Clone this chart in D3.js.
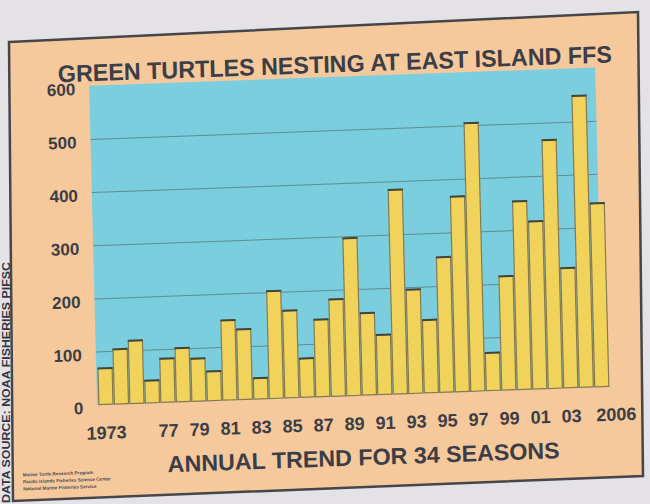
<!DOCTYPE html>
<html>
<head>
<meta charset="utf-8">
<script src="https://cdn.jsdelivr.net/npm/d3@7"></script>
<style>
  html, body { margin: 0; padding: 0; background: #e4e2e6; }
  svg { display: block; }
  text { font-family: "Liberation Sans", Arial, Helvetica, sans-serif; font-weight: bold; }
</style>
</head>
<body>
<svg id="chart" width="650" height="504"></svg>
<script>
// Green turtle nests counted at East Island, French Frigate Shoals
const years = [1973, 1974, 1975, 1976, 1977, 1978, 1979, 1980, 1981, 1982, 1983,
               1984, 1985, 1986, 1987, 1988, 1989, 1990, 1991, 1992, 1993, 1994,
               1995, 1996, 1997, 1998, 1999, 2000, 2001, 2002, 2003, 2004, 2005];
const nests = [68, 103, 118, 42, 82, 101, 80, 55, 150, 132, 39,
               202, 164, 73, 145, 182, 296, 154, 112, 384, 195, 137,
               254, 367, 504, 71, 214, 354, 315, 467, 225, 548, 345];
const yTicks = [0, 100, 200, 300, 400, 500, 600];
const xTickYears = [1973, 1977, 1979, 1981, 1983, 1985, 1987, 1989, 1991,
                    1993, 1995, 1997, 1999, 2001, 2003];
const endLabel = "2006";
const title = "GREEN TURTLES NESTING AT EAST ISLAND FFS";
const subtitle = "ANNUAL TREND FOR 34 SEASONS";
const sourceNote = "DATA SOURCE: NOAA FISHERIES PIFSC";
const credits = ["Marine Turtle Research Program",
                 "Pacific Islands Fisheries Science Center",
                 "National Marine Fisheries Service"];

const svg = d3.select("#chart");
const ink = "#3b3d47";

// printed panel (the page sits slightly askew)
svg.append("polygon")
  .attr("points", "9,42 638,12 643,476 13,501")
  .attr("fill", "#f5c99b")
  .attr("stroke", "#45464a")
  .attr("stroke-width", 2.5);

svg.append("text")
  .attr("transform", "translate(10,503) rotate(-90)")
  .attr("font-size", 10)
  .attr("fill", "#34363d")
  .attr("textLength", 241)
  .attr("lengthAdjust", "spacingAndGlyphs")
  .text(sourceNote);

// chart content, sheared to follow the tilted page
const g = svg.append("g")
  .attr("transform", "matrix(1,-0.036,0.025,1,-10,3.24)");

const plot = { left: 97, right: 603, top: 86, bottom: 405 };

const x = d3.scaleBand()
  .domain(years)
  .range([98, 609.5])
  .paddingInner(0.09)
  .paddingOuter(0.05);

const y = d3.scaleLinear()
  .domain([0, 600])
  .range([plot.bottom, plot.top]);

g.append("rect")
  .attr("x", plot.left).attr("y", plot.top)
  .attr("width", plot.right - plot.left)
  .attr("height", plot.bottom - plot.top)
  .attr("fill", "#7bcedd");

// gridlines
const grid = g.append("g")
  .attr("transform", `translate(${plot.left},0)`)
  .call(d3.axisLeft(y).tickValues(yTicks.filter(v => v > 0 && v < 600))
    .tickSize(-(plot.right - plot.left)).tickFormat(""));
grid.select(".domain").remove();
grid.selectAll(".tick line").attr("stroke", "#5d7f8c").attr("stroke-width", 1).attr("opacity", 0.85);

// bars
const bars = g.append("g");
bars.selectAll("rect")
  .data(years)
  .join("rect")
  .attr("x", d => x(d))
  .attr("y", (d, i) => y(nests[i]))
  .attr("width", x.bandwidth())
  .attr("height", (d, i) => y(0) - y(nests[i]))
  .attr("fill", "#f1d35c")
  .attr("stroke", "#857a52")
  .attr("stroke-width", 1.2);
bars.selectAll("line")
  .data(years)
  .join("line")
  .attr("x1", d => x(d) - 0.5)
  .attr("x2", d => x(d) + x.bandwidth() + 0.5)
  .attr("y1", (d, i) => y(nests[i]))
  .attr("y2", (d, i) => y(nests[i]))
  .attr("stroke", "#3f4539")
  .attr("stroke-width", 2);

// y axis labels
const yAxis = g.append("g")
  .attr("transform", `translate(${plot.left},0)`)
  .call(d3.axisLeft(y).tickValues(yTicks).tickSize(0).tickPadding(14));
yAxis.select(".domain").remove();
yAxis.selectAll("text")
  .attr("font-size", 17)
  .attr("font-family", "Liberation Sans, Arial, sans-serif")
  .attr("font-weight", "bold")
  .attr("fill", ink)
  .attr("dy", "0.5em");

// x axis labels
const xAxis = g.append("g")
  .attr("transform", "translate(0,426)")
  .call(d3.axisBottom(x).tickValues(xTickYears).tickSize(0).tickPadding(0)
    .tickFormat(d => d === 1973 ? "1973" : String(d).slice(2)));
xAxis.select(".domain").remove();
xAxis.selectAll("text")
  .attr("font-size", 18)
  .attr("font-family", "Liberation Sans, Arial, sans-serif")
  .attr("font-weight", "bold")
  .attr("fill", ink)
  .attr("dy", "0.75em");
g.append("text")
  .attr("x", x.range()[1] + 26)
  .attr("y", 426)
  .attr("dy", "0.75em")
  .attr("text-anchor", "end")
  .attr("font-size", 18)
  .attr("fill", ink)
  .text(endLabel);

// titles
g.append("text")
  .attr("x", 66).attr("y", 81.5)
  .attr("font-size", 24)
  .attr("fill", ink)
  .attr("textLength", 554)
  .attr("lengthAdjust", "spacingAndGlyphs")
  .text(title);

g.append("text")
  .attr("x", 166).attr("y", 475)
  .attr("font-size", 23)
  .attr("fill", ink)
  .attr("textLength", 392)
  .attr("lengthAdjust", "spacingAndGlyphs")
  .text(subtitle);

// small print credits
g.append("g").selectAll("text")
  .data(credits)
  .join("text")
  .attr("x", 21)
  .attr("y", (d, i) => 474 + i * 7)
  .attr("font-size", 4.6)
  .attr("font-weight", "normal")
  .attr("fill", "#4a4a55")
  .text(d => d);
</script>
</body>
</html>
